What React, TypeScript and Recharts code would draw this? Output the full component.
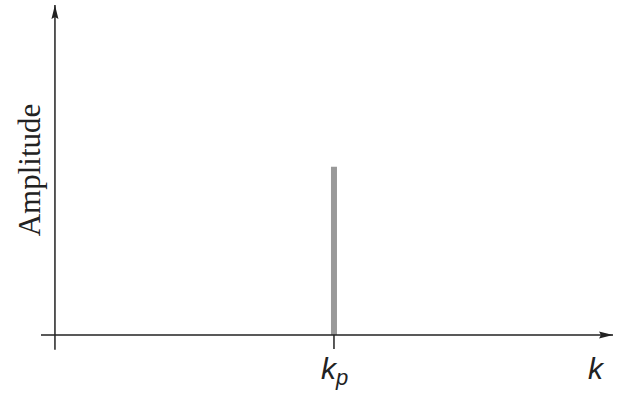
import { ComposedChart, Bar, XAxis, YAxis, ReferenceLine } from "recharts";

// single spectral peak at k_p
const waveNumbers = [1];
const amplitudes = [0.51];
const peakTicks = [1];

const kDomain: [number, number] = [-0.05, 2];
const ampDomain: [number, number] = [0, 1];

const data = waveNumbers.map((k, i) => ({ k, amp: amplitudes[i] }));

const INK = "#222";
const sansItalic = { fontFamily: "'Liberation Sans', Arial, sans-serif", fontStyle: "italic" as const };

const ArrowLine = (p: any) => (
  <line
    x1={p.x1}
    y1={p.y1}
    x2={p.x2}
    y2={p.y2}
    stroke={INK}
    strokeWidth={1.5}
    markerEnd="url(#axisArrow)"
  />
);

const PeakTick = (props: any) => {
  const { x, y } = props;
  return (
    <g>
      <text x={x - 13} y={y + 28} fontSize={30} fill={INK} style={sansItalic}>
        k
        <tspan fontSize={22} dy={6}>
          p
        </tspan>
      </text>
    </g>
  );
};

export default function App() {
  return (
    <div style={{ position: "absolute", left: 0, top: 0 }}>
      <svg width={0} height={0} style={{ position: "absolute" }}>
        <defs>
          <marker
            id="axisArrow"
            viewBox="0 0 14 8"
            refX={14}
            refY={4}
            markerWidth={14}
            markerHeight={8}
            orient="auto"
            markerUnits="userSpaceOnUse"
          >
            <path d="M0,0.5 L14,4 L0,7.5 L2,4 Z" fill={INK} />
          </marker>
        </defs>
      </svg>
      <ComposedChart
        width={617}
        height={397}
        data={data}
        margin={{ top: 5, right: 4, left: 0, bottom: 12 }}
        style={{ background: "#fff" }}
      >
        <XAxis
          type="number"
          dataKey="k"
          domain={kDomain}
          allowDataOverflow
          ticks={peakTicks}
          axisLine={false}
          tickLine={{ stroke: INK, strokeWidth: 1.5 }}
          tickSize={14}
          tickMargin={2}
          tick={<PeakTick />}
          height={50}
          label={{
            content: ({ viewBox }: any) => (
              <text
                x={viewBox.x + viewBox.width - 25}
                y={viewBox.y + 44}
                fontSize={30}
                fill={INK}
                style={sansItalic}
              >
                k
              </text>
            ),
          }}
        />
        <YAxis
          type="number"
          domain={ampDomain}
          allowDataOverflow
          width={41}
          axisLine={false}
          tickLine={false}
          tick={false}
          label={{
            content: ({ viewBox }: any) => {
              const cx = viewBox.x + 40;
              const cy = viewBox.y + viewBox.height / 2;
              return (
                <text
                  x={cx}
                  y={cy}
                  transform={`rotate(-90, ${cx}, ${cy})`}
                  textAnchor="middle"
                  fontSize={31}
                  fill={INK}
                  fontFamily="'Liberation Serif', 'Times New Roman', serif"
                >
                  Amplitude
                </text>
              );
            },
          }}
        />
        <ReferenceLine
          segment={[
            { x: kDomain[0], y: 0 },
            { x: kDomain[1], y: 0 },
          ]}
          ifOverflow="visible"
          shape={ArrowLine}
        />
        <ReferenceLine
          segment={[
            { x: 0, y: -0.045 },
            { x: 0, y: ampDomain[1] },
          ]}
          ifOverflow="visible"
          shape={ArrowLine}
        />
        <Bar dataKey="amp" barSize={6} fill="#999" isAnimationActive={false} />
      </ComposedChart>
    </div>
  );
}
